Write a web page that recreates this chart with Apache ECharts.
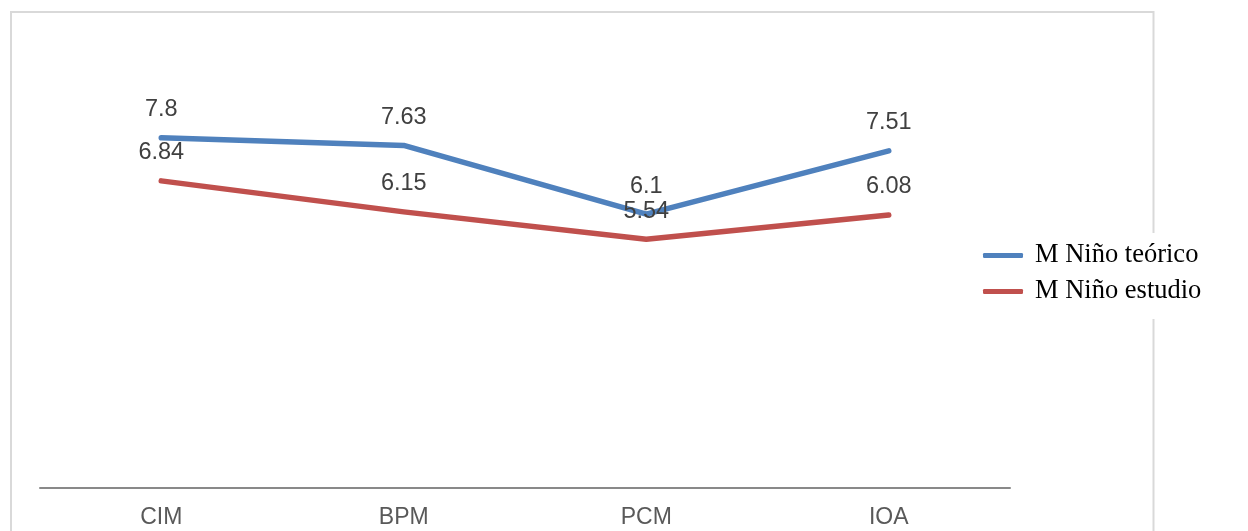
<!DOCTYPE html>
<html>
<head>
<meta charset="utf-8">
<script src="https://cdn.jsdelivr.net/npm/echarts@6/dist/echarts.min.js"></script>
<style>
  html, body { margin: 0; padding: 0; background: #ffffff; }
  #chart { width: 1248px; height: 531px; }
</style>
</head>
<body>
<div id="chart"></div>
<script>
// Categories and the two series of means
const categories = ['CIM', 'BPM', 'PCM', 'IOA'];
const teoricoValues = [7.8, 7.63, 6.1, 7.51];
const estudioValues = [6.84, 6.15, 5.54, 6.08];
const seriesNames = ['M Niño teórico', 'M Niño estudio'];

const chart = echarts.init(document.getElementById('chart'), null, { renderer: 'canvas' });

const labelStyle = {
  show: true,
  position: 'top',
  distance: 16,
  color: '#404040',
  fontFamily: 'Liberation Sans, Arial, sans-serif',
  fontSize: 23.5,
  lineHeight: 23
};

function lineSeries(name, values, color) {
  return {
    name: name,
    type: 'line',
    data: values,
    symbol: 'circle',
    symbolSize: 1,
    showSymbol: true,
    itemStyle: { color: 'rgba(0,0,0,0)', borderWidth: 0 },
    lineStyle: { color: color, width: 5.5, cap: 'round', join: 'round' },
    label: labelStyle,
    emphasis: { disabled: true },
    animation: false
  };
}

chart.setOption({
  backgroundColor: '#ffffff',
  animation: false,
  graphic: [{
    type: 'rect',
    z: 0,
    silent: true,
    shape: { x: 11, y: 12, width: 1142.5, height: 700 },
    style: { fill: 'none', stroke: '#d9d9d9', lineWidth: 2 }
  }],
  grid: { left: 40, right: 238, top: 39, bottom: 43, containLabel: false },
  legend: {
    orient: 'vertical',
    left: 978,
    top: 233,
    z: 10,
    backgroundColor: '#ffffff',
    padding: [9, 12, 14, 5],
    itemGap: 9,
    itemWidth: 40,
    itemHeight: 5,
    icon: 'roundRect',
    textStyle: {
      fontFamily: 'Liberation Serif, Times New Roman, serif',
      fontSize: 26.5,
      lineHeight: 26,
      color: '#000000',
      padding: [0, 0, 0, 7]
    },
    data: [
      { name: seriesNames[0], itemStyle: { color: '#4f81bd' } },
      { name: seriesNames[1], itemStyle: { color: '#c0504d' } }
    ]
  },
  xAxis: {
    type: 'category',
    data: categories,
    boundaryGap: true,
    axisLine: { show: true, lineStyle: { color: '#898989', width: 2 } },
    axisTick: { show: false },
    axisLabel: {
      margin: 18,
      color: '#595959',
      fontFamily: 'Liberation Sans, Arial, sans-serif',
      fontSize: 23,
      lineHeight: 23
    },
    splitLine: { show: false }
  },
  yAxis: {
    type: 'value',
    min: 0,
    max: 10,
    show: false,
    splitLine: { show: false }
  },
  series: [
    lineSeries(seriesNames[0], teoricoValues, '#4f81bd'),
    lineSeries(seriesNames[1], estudioValues, '#c0504d')
  ]
});
</script>
</body>
</html>
